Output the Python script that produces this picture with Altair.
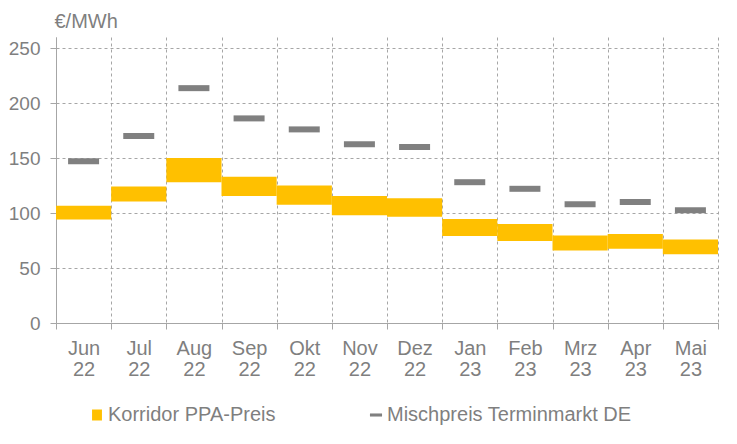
import altair as alt
import pandas as pd

months = ["Jun 22", "Jul 22", "Aug 22", "Sep 22", "Okt 22", "Nov 22",
          "Dez 22", "Jan 23", "Feb 23", "Mrz 23", "Apr 23", "Mai 23"]
ppa_low = [94, 110.5, 128, 115.5, 107.5, 98, 96.5, 79, 74.5, 66, 67.5, 62.5]
ppa_high = [106.5, 124, 150, 133, 125, 115.5, 113.5, 94.5, 90, 79.5, 81, 76]
mischpreis = [147, 170, 213.5, 186, 176, 162.5, 160, 128, 122, 108, 110, 102.5]
series = ["Korridor PPA-Preis", "Mischpreis Terminmarkt DE"]

YELLOW = "#FFC000"
GRAY = "#808080"
TEXT = "#7f7f7f"
LINE = "#a6a6a6"
FONT = "Liberation Sans"
FS = 20

df_bar = pd.DataFrame({"month": months, "low": ppa_low, "high": ppa_high,
                       "series": series[0]})
df_tick = pd.DataFrame({"month": months, "value": mischpreis,
                        "series": series[1]})

x_enc = alt.X("month:N", sort=months,
              scale=alt.Scale(paddingInner=0, paddingOuter=0),
              axis=alt.Axis(title=None, labelAngle=0, tickBand="extent",
                            grid=True, gridDash=[3, 3], gridColor=LINE,
                            domainColor=LINE, tickColor=LINE, tickSize=6,
                            labelExpr="split(datum.label, ' ')",
                            labelLineHeight=21, labelPadding=9,
                            labelFontSize=FS, labelColor=TEXT, labelFont=FONT,
                            labelBaseline="top"))

y_axis = alt.Axis(values=[0, 50, 100, 150, 200, 250], grid=True,
                  gridDash=[3, 3], gridColor=LINE, domainColor=LINE,
                  tickColor=LINE, tickSize=6, labelPadding=10,
                  labelFontSize=19, labelColor=TEXT, labelFont=FONT,
                  title="€/MWh", titleAngle=0, titleAlign="left",
                  titleBaseline="alphabetic", titleX=-2, titleY=-10,
                  titleFontSize=FS, titleFontWeight="normal",
                  titleColor=TEXT, titleFont=FONT)

color_scale = alt.Scale(domain=series, range=[YELLOW, GRAY])
legend = alt.Legend(
    title=None, orient="none", direction="horizontal", legendX=30,
    legendY=367, labelFontSize=FS, labelColor=TEXT, labelFont=FONT,
    labelLimit=500, symbolSize=484, symbolStrokeWidth=0, symbolOpacity=1,
    columnPadding=89, labelOffset=0,
    symbolType={"expr": "datum.value == 'Korridor PPA-Preis' ? 'M-0.45,-0.5H0.45V0.5H-0.45Z' : 'M-0.55,-0.14H0.55V0.14H-0.55Z'"})

bars = alt.Chart(df_bar).mark_bar(opacity=1).encode(
    x=x_enc,
    y=alt.Y("low:Q", scale=alt.Scale(domain=[0, 250]), axis=y_axis),
    y2="high:Q",
    color=alt.Color("series:N", scale=color_scale, legend=legend),
)

ticks = alt.Chart(df_tick).mark_tick(size=31, thickness=6, opacity=1).encode(
    x=alt.X("month:N", sort=months),
    y=alt.Y("value:Q"),
    color=alt.Color("series:N", scale=color_scale, legend=legend),
)

chart = alt.layer(bars, ticks).properties(
    width=662, height=286,
    autosize="none",
    padding={"left": 48, "top": 29, "right": 11, "bottom": 110},
).configure_view(stroke=None)

chart.save("out.html", embed_options={"renderer": "svg", "actions": False})
